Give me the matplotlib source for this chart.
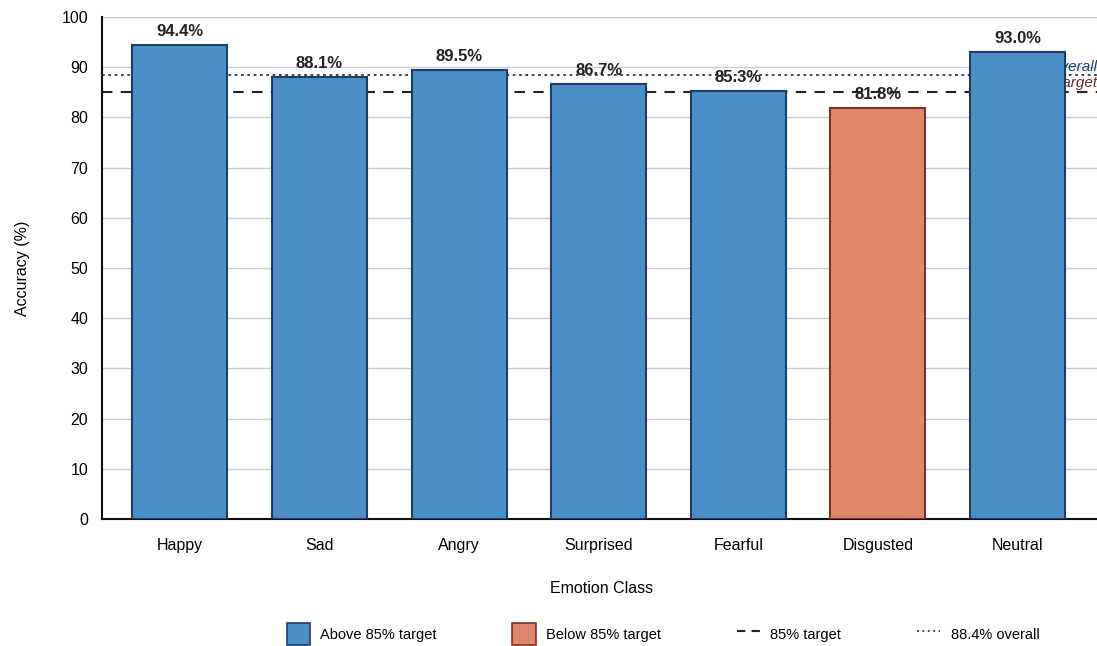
import matplotlib
matplotlib.use("Agg")
import matplotlib.pyplot as plt
from matplotlib.patches import Patch
from matplotlib.lines import Line2D

categories = ["Happy", "Sad", "Angry", "Surprised", "Fearful", "Disgusted", "Neutral"]
accuracy = [94.4, 88.1, 89.5, 86.7, 85.3, 81.8, 93.0]
target = 85.0
overall = 88.4
yticks = [0, 10, 20, 30, 40, 50, 60, 70, 80, 90, 100]

plt.rcParams['font.family'] = ['Liberation Sans', 'DejaVu Sans']

blue, blue_edge = "#4a8fc6", "#1d3d66"
orange, orange_edge = "#e0876a", "#7a3326"

fig = plt.figure(figsize=(10.97, 6.46), dpi=100)
ax = fig.add_axes([102/1097, 1-519/646, 1.0 - 102/1097 + 0.004, (519-17)/646])

colors = [blue if v >= target else orange for v in accuracy]
edges = [blue_edge if v >= target else orange_edge for v in accuracy]
x = list(range(len(categories)))
bars = ax.bar(x, accuracy, width=0.68, color=colors, edgecolor=edges, linewidth=1.5, zorder=3)

for xi, v in zip(x, accuracy):
    ax.text(xi, v + 1.2, f"{v:.1f}%", ha="center", va="bottom", fontsize=12,
            fontweight="bold", color="#222222", zorder=2)

ax.axhline(target, color="#222222", linestyle=(0, (5, 4)), linewidth=1.5, zorder=2.5)
ax.axhline(overall, color="#333344", linestyle=(0, (1.5, 2)), linewidth=1.3, zorder=2.5)
ax.text(6.57, overall + 0.3, "overall", ha="right", va="bottom", fontsize=11, style="italic",
        color="#1f3f70", zorder=2)
ax.text(6.57, target + 0.5, "target", ha="right", va="bottom", fontsize=11, style="italic",
        color="#7a2020", zorder=2)

ax.set_xlim(-0.557, 6.6)
ax.set_ylim(0, 100)
ax.set_yticks(yticks)
ax.set_xticks(x)
ax.set_xticklabels(categories, fontsize=11.5)
ax.tick_params(axis="y", labelsize=11.5, length=0, pad=10)
ax.tick_params(axis="x", length=0, pad=14)
ax.grid(axis="y", color="#cccccc", linewidth=1, zorder=0)
ax.set_axisbelow(True)
for s in ["top", "right"]:
    ax.spines[s].set_visible(False)
ax.spines["left"].set_linewidth(1.5)
ax.spines["bottom"].set_linewidth(1.5)
ax.spines["left"].set_color("#111111")
ax.spines["bottom"].set_color("#111111")
ax.set_ylabel("Accuracy (%)", fontsize=11.5, labelpad=23)
ax.set_xlabel("Emotion Class", fontsize=11.5, labelpad=20)

handles = [
    Patch(facecolor=blue, edgecolor=blue_edge, linewidth=1.2),
    Patch(facecolor=orange, edgecolor=orange_edge, linewidth=1.2),
    Line2D([0], [0], color="#222222", linestyle=(0, (4, 3)), linewidth=1.5),
    Line2D([0], [0], color="#333344", linestyle=(0, (1, 2)), linewidth=1.3),
]
labels = ["Above 85% target", "Below 85% target", "85% target", "88.4% overall"]
fig.legend(handles, labels, loc="center", bbox_to_anchor=(663/1097, 1-634/646), ncol=4,
           frameon=False, fontsize=10.5, handlelength=1.6, handleheight=1.9,
           handletextpad=0.7, columnspacing=5.2)

fig.savefig("out.png", dpi=100)
